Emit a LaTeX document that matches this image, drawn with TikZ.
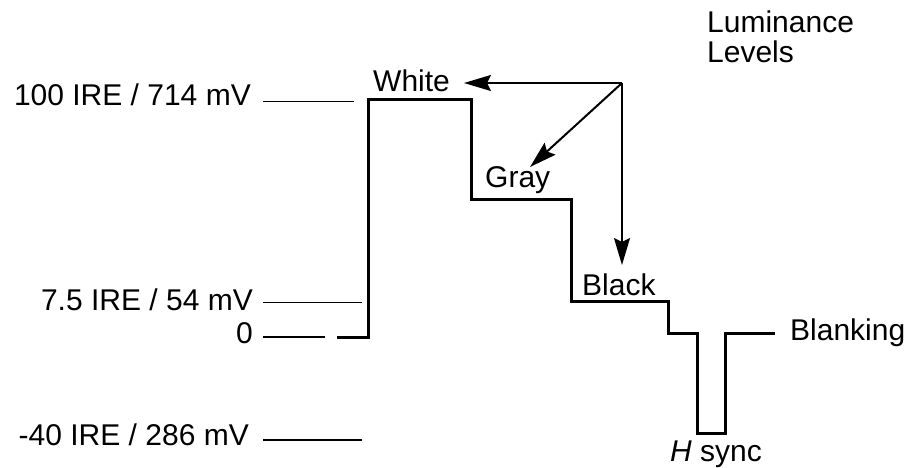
\documentclass[tikz,border=0pt]{standalone}
\usepackage{fontspec}
\setmainfont{Liberation Sans}
\usetikzlibrary{arrows.meta}
\begin{document}
\begin{tikzpicture}[x=1pt,y=-1pt,
  lbl/.style={inner sep=0pt,font=\fontsize{30}{36}\selectfont},
  tick/.style={line width=1.5pt},
  wave/.style={line width=3pt,line join=miter},
  pointer/.style={line width=2pt,-{Stealth[length=27pt,width=16pt,inset=4pt]}}]
\useasboundingbox (0,0) rectangle (916,468);
% level labels
\node[lbl,anchor=base east] (l100) at (251,106) {100 IRE / 714 mV};
\node[lbl,anchor=base east] (l75) at (253,310) {7.5 IRE / 54 mV};
\node[lbl,anchor=base east] (l0) at (253,343) {0};
\node[lbl,anchor=base east] (l40) at (249,445) {-40 IRE / 286 mV};
% tick lines
\draw[tick] (263,101.5) -- (354,101.5);
\draw[tick] (263,302.5) -- (362,302.5);
\draw[tick] (263,337) -- (325,337);
\draw[tick] (263,440) -- (362,440);
% waveform
\draw[wave] (337,337) -- (368,337) -- (368,100) -- (471,100) -- (471,199)
  -- (571.5,199) -- (571.5,301.5) -- (668,301.5) -- (668,333) -- (697,333)
  -- (697,433) -- (725,433) -- (725,333) -- (775,333);
% level names
\node[lbl,anchor=base west] (white) at (373,92) {White};
\node[lbl,anchor=base west] (gray) at (485,188) {Gray};
\node[lbl,anchor=base west] (black) at (582,295) {Black};
\node[lbl,anchor=base west] (blank) at (790,340) {Blanking};
\node[lbl,anchor=base west] (hsync) at (670,461.5) {\textit{H} sync};
\node[lbl,anchor=base west] (lum) at (707,33) {Luminance};
\node[lbl,anchor=base west] (lev) at (707,63) {Levels};
% pointers
\coordinate (src) at (622,83);
\coordinate (whitetip) at (464,83);
\coordinate (graytip) at (530,167);
\coordinate (blacktip) at (622,265);
\draw[pointer] (src) -- (whitetip);
\draw[pointer] (src) -- (graytip);
\draw[pointer] (src) -- (blacktip);
\end{tikzpicture}
\end{document}
